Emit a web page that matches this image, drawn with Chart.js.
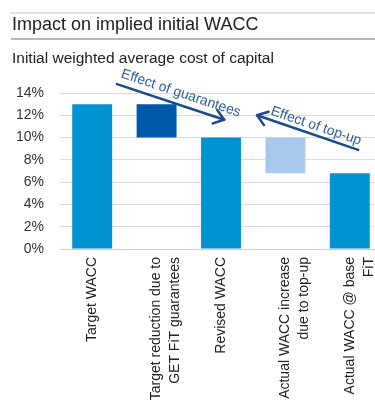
<!DOCTYPE html>
<html>
<head>
<meta charset="utf-8">
<script src="https://cdn.jsdelivr.net/npm/chart.js@4/dist/chart.umd.min.js"></script>
<style>
  html, body { margin: 0; padding: 0; background: #fff; overflow: hidden; width: 375px; height: 401px; }
  #wrap { position: absolute; left: 0; top: 0; width: 385px; height: 401px; }
  #chart { position: absolute; left: 0; top: 0; }
  .rule-top { position: absolute; left: 10px; right: -10px; top: 12px; height: 0; border-top: 2px solid #e3e3e3; }
  .rule-bottom { position: absolute; left: 11px; right: -10px; top: 38px; height: 0; border-top: 2px solid #b8b8b8; }
  .title { position: absolute; left: 12px; top: 14px; font: 18px "Liberation Sans", Arial, sans-serif; color: #222; white-space: nowrap; }
  .subtitle { position: absolute; left: 12px; top: 49px; font: 15.5px "Liberation Sans", Arial, sans-serif; color: #222; white-space: nowrap; }
</style>
</head>
<body>
<div id="wrap">
  <canvas id="chart" width="385" height="401"></canvas>
  <div class="rule-top"></div>
  <div class="title">Impact on implied initial WACC</div>
  <div class="rule-bottom"></div>
  <div class="subtitle">Initial weighted average cost of capital</div>
</div>
<script>
// WACC bridge: start, step changes and end values (percent)
const categories = [
  'Target WACC',
  ['Target reduction due to', 'GET FiT guarantees'],
  'Revised WACC',
  ['Actual WACC increase', 'due to top-up'],
  ['Actual WACC @ base', 'FiT']
];
const targetWacc = 13;
const guaranteeReduction = 3;
const revisedWacc = 10;
const topUpIncrease = 3.2;
const actualWacc = 6.8;
const yTicks = [0, 2, 4, 6, 8, 10, 12, 14];

// floating [low, high] ranges for each bar of the bridge
const barRanges = [
  [0, targetWacc],
  [targetWacc - guaranteeReduction, targetWacc],
  [0, revisedWacc],
  [revisedWacc - topUpIncrease, revisedWacc],
  [0, actualWacc]
];
const barColors = ['#0092d1', '#0058a9', '#0092d1', '#a9c9ec', '#0092d1'];

// callout arrows, anchored in data units (category index, percent)
const callouts = [
  { text: 'Effect of guarantees', tail: [0.385, 14.8], head: [2.05, 11.6], along: 1, offset: 7.5 },
  { text: 'Effect of top-up', tail: [4.13, 8.9], head: [2.56, 12.0], along: 12, offset: 5 }
];

const FONT = '"Liberation Sans", Arial, sans-serif';

const calloutPlugin = {
  id: 'callouts',
  afterDatasetsDraw(chart) {
    const { ctx, scales: { x, y } } = chart;
    ctx.save();
    callouts.forEach(c => {
      const t = { x: x.getPixelForValue(c.tail[0]), y: y.getPixelForValue(c.tail[1]) };
      const h = { x: x.getPixelForValue(c.head[0]), y: y.getPixelForValue(c.head[1]) };
      // shaft
      ctx.strokeStyle = '#1b4a8a';
      ctx.lineWidth = 2.5;
      ctx.lineCap = 'round';
      ctx.lineJoin = 'round';
      ctx.beginPath();
      ctx.moveTo(t.x, t.y);
      ctx.lineTo(h.x, h.y);
      ctx.stroke();
      // open arrow head
      const dir = Math.atan2(h.y - t.y, h.x - t.x);
      const len = 12, spread = Math.PI / 5;
      ctx.beginPath();
      ctx.moveTo(h.x - len * Math.cos(dir - spread), h.y - len * Math.sin(dir - spread));
      ctx.lineTo(h.x, h.y);
      ctx.lineTo(h.x - len * Math.cos(dir + spread), h.y - len * Math.sin(dir + spread));
      ctx.stroke();
      // label along the shaft, reading left to right
      const p = t.x <= h.x ? t : h;
      const q = t.x <= h.x ? h : t;
      const a = Math.atan2(q.y - p.y, q.x - p.x);
      const ux = Math.cos(a), uy = Math.sin(a);
      const nx = Math.sin(a), ny = -Math.cos(a);
      const sx = p.x + ux * c.along + nx * c.offset;
      const sy = p.y + uy * c.along + ny * c.offset;
      ctx.translate(sx, sy);
      ctx.rotate(a);
      ctx.fillStyle = '#2f5e9e';
      ctx.font = '14px ' + FONT;
      ctx.textAlign = 'left';
      ctx.textBaseline = 'alphabetic';
      ctx.fillText(c.text, 0, 0);
      ctx.setTransform(1, 0, 0, 1, 0, 0);
    });
    ctx.restore();
  }
};

new Chart(document.getElementById('chart'), {
  type: 'bar',
  data: {
    labels: categories,
    datasets: [{
      data: barRanges,
      backgroundColor: barColors,
      borderWidth: 0,
      barPercentage: 0.62,
      categoryPercentage: 1
    }]
  },
  options: {
    responsive: false,
    devicePixelRatio: 1,
    animation: false,
    layout: { padding: { top: 93, right: 3, left: 0, bottom: 0 } },
    plugins: { legend: { display: false }, tooltip: { enabled: false } },
    scales: {
      x: {
        grid: { display: false, drawTicks: false },
        border: { display: true, color: '#cfcfcf', width: 1 },
        ticks: {
          autoSkip: false,
          minRotation: 90,
          maxRotation: 90,
          padding: 8,
          color: '#222',
          font: { family: FONT, size: 14, lineHeight: 1.35 }
        },
        afterFit(scale) {
          scale.height = 152;
          scale.paddingLeft = 0;
          scale.paddingRight = 0;
        }
      },
      y: {
        min: 0,
        max: 14,
        afterBuildTicks(scale) { scale.ticks = yTicks.map(v => ({ value: v })); },
        grid: { color: '#dcdcdc', lineWidth: 1, drawTicks: false },
        border: { display: false },
        ticks: {
          padding: 16,
          color: '#333',
          font: { family: FONT, size: 14 },
          callback: v => v + '%'
        },
        afterFit(scale) {
          scale.width = 60;
          scale.paddingTop = 0;
          scale.paddingBottom = 0;
        }
      }
    }
  },
  plugins: [calloutPlugin]
});
</script>
</body>
</html>
